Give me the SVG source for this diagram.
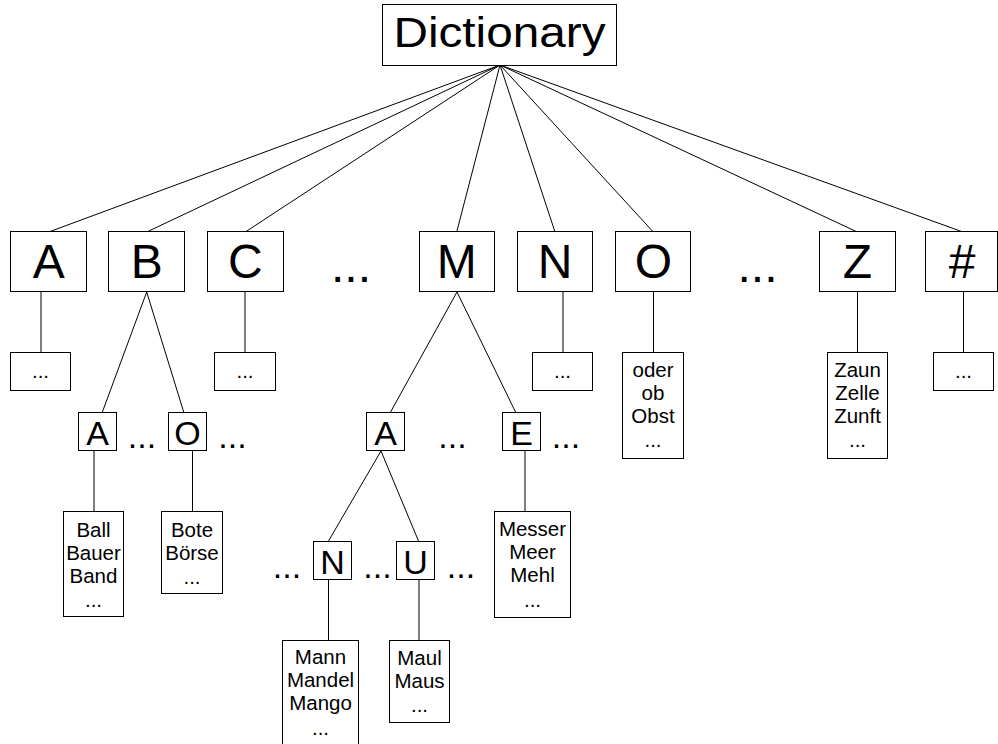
<svg xmlns="http://www.w3.org/2000/svg" width="998" height="744" viewBox="0 0 998 744">
  <style>
    .box { fill: #fff; stroke: #000; stroke-width: 1; }
    .edge { stroke: #000; stroke-width: 1; fill: none; }
    text { font-family: "Liberation Sans", Arial, sans-serif; fill: #000; text-anchor: middle; }
    .root { font-size: 42px; }
    .big { font-size: 48px; }
    .mid { font-size: 34px; }
    .small { font-size: 20.5px; }
  </style>
  <rect width="998" height="744" fill="#fff"/>

  <!-- connectors -->
  <g id="connectors" class="edge">
    <line x1="500" y1="65" x2="48.7" y2="232"/>
    <line x1="500" y1="65" x2="146.7" y2="232"/>
    <line x1="500" y1="65" x2="245.3" y2="232"/>
    <line x1="500" y1="65" x2="456.7" y2="232"/>
    <line x1="500" y1="65" x2="555" y2="232"/>
    <line x1="500" y1="65" x2="653.3" y2="232"/>
    <line x1="500" y1="65" x2="857.3" y2="232"/>
    <line x1="500" y1="65" x2="963" y2="232"/>
    <!-- letter to leaf -->
    <line x1="41" y1="292" x2="41" y2="352"/>
    <line x1="245" y1="292" x2="245" y2="352"/>
    <line x1="563" y1="292" x2="563" y2="352"/>
    <line x1="653.5" y1="292" x2="653.5" y2="352"/>
    <line x1="857.5" y1="292" x2="857.5" y2="352"/>
    <line x1="963.5" y1="292" x2="963.5" y2="352"/>
    <!-- B subtree -->
    <line x1="146.7" y1="292" x2="102" y2="413"/>
    <line x1="146.7" y1="292" x2="184" y2="413"/>
    <line x1="94" y1="451" x2="94" y2="512"/>
    <line x1="192.5" y1="451" x2="192.5" y2="512"/>
    <!-- M subtree -->
    <line x1="457" y1="292" x2="390" y2="413"/>
    <line x1="457" y1="292" x2="516" y2="413"/>
    <line x1="525" y1="451" x2="525" y2="512"/>
    <line x1="381" y1="451" x2="328.5" y2="541"/>
    <line x1="381" y1="451" x2="418.5" y2="541"/>
    <line x1="328.5" y1="579" x2="328.5" y2="640"/>
    <line x1="419" y1="579" x2="419" y2="640"/>
  </g>

  <!-- root -->
  <g id="dictionary">
    <rect class="box" x="382.5" y="4.5" width="234" height="61"/>
    <text class="root" x="499.5" y="47" textLength="212" lengthAdjust="spacingAndGlyphs">Dictionary</text>
  </g>

  <!-- first-letter row -->
  <g id="letter-A"><rect class="box" x="10.5" y="231.5" width="76" height="60"/><text class="big" x="48.7" y="278">A</text></g>
  <g id="letter-B"><rect class="box" x="108.5" y="231.5" width="76" height="60"/><text class="big" x="146.7" y="278">B</text></g>
  <g id="letter-C"><rect class="box" x="207.5" y="231.5" width="76" height="60"/><text class="big" x="245.3" y="278">C</text></g>
  <g id="gap-CM"><text class="big" x="351" y="282">...</text></g>
  <g id="letter-M"><rect class="box" x="419.5" y="231.5" width="75" height="60"/><text class="big" x="456.7" y="278">M</text></g>
  <g id="letter-N"><rect class="box" x="517.5" y="231.5" width="75" height="60"/><text class="big" x="555" y="278">N</text></g>
  <g id="letter-O"><rect class="box" x="615.5" y="231.5" width="75" height="60"/><text class="big" x="653.3" y="278">O</text></g>
  <g id="gap-OZ"><text class="big" x="757.5" y="282">...</text></g>
  <g id="letter-Z"><rect class="box" x="819.5" y="231.5" width="76" height="60"/><text class="big" x="857.3" y="278">Z</text></g>
  <g id="letter-hash"><rect class="box" x="925.5" y="231.5" width="72" height="60"/><text class="big" x="962" y="278">#</text></g>

  <!-- leaves of the first row -->
  <g id="leaf-A"><rect class="box" x="10.5" y="352.5" width="60" height="38"/><text class="small" x="40.5" y="378">...</text></g>
  <g id="leaf-C"><rect class="box" x="214.5" y="352.5" width="61" height="38"/><text class="small" x="245" y="378">...</text></g>
  <g id="leaf-N"><rect class="box" x="532.5" y="352.5" width="60" height="38"/><text class="small" x="562.5" y="378">...</text></g>
  <g id="leaf-O">
    <rect class="box" x="622.5" y="352.5" width="61" height="106"/>
    <text class="small" x="653" y="377">oder</text>
    <text class="small" x="653" y="400">ob</text>
    <text class="small" x="653" y="423">Obst</text>
    <text class="small" x="653" y="447">...</text>
  </g>
  <g id="leaf-Z">
    <rect class="box" x="827.5" y="352.5" width="60" height="106"/>
    <text class="small" x="857.5" y="377">Zaun</text>
    <text class="small" x="857.5" y="400">Zelle</text>
    <text class="small" x="857.5" y="423">Zunft</text>
    <text class="small" x="857.5" y="447">...</text>
  </g>
  <g id="leaf-hash"><rect class="box" x="933.5" y="352.5" width="60" height="38"/><text class="small" x="963.5" y="378">...</text></g>

  <!-- B subtree -->
  <g id="B-A"><rect class="box" x="78.5" y="412.5" width="38" height="38"/><text class="mid" x="97.5" y="445">A</text></g>
  <g id="gap-B1"><text class="mid" x="142" y="448">...</text></g>
  <g id="B-O"><rect class="box" x="168.5" y="412.5" width="38" height="38"/><text class="mid" x="187.5" y="445">O</text></g>
  <g id="gap-B2"><text class="mid" x="232.5" y="448">...</text></g>
  <g id="leaf-BA">
    <rect class="box" x="63.5" y="511.5" width="60" height="105"/>
    <text class="small" x="93.5" y="537">Ball</text>
    <text class="small" x="93.5" y="560">Bauer</text>
    <text class="small" x="93.5" y="583">Band</text>
    <text class="small" x="93.5" y="607">...</text>
  </g>
  <g id="leaf-BO">
    <rect class="box" x="161.5" y="511.5" width="61" height="82"/>
    <text class="small" x="192" y="537">Bote</text>
    <text class="small" x="192" y="560">Börse</text>
    <text class="small" x="192" y="584">...</text>
  </g>

  <!-- M subtree -->
  <g id="M-A"><rect class="box" x="366.5" y="412.5" width="38" height="38"/><text class="mid" x="385.5" y="445">A</text></g>
  <g id="gap-M1"><text class="mid" x="452.5" y="448">...</text></g>
  <g id="M-E"><rect class="box" x="502.5" y="412.5" width="38" height="38"/><text class="mid" x="521.5" y="445">E</text></g>
  <g id="gap-M2"><text class="mid" x="566" y="448">...</text></g>
  <g id="leaf-ME">
    <rect class="box" x="494.5" y="511.5" width="76" height="106"/>
    <text class="small" x="532.5" y="536">Messer</text>
    <text class="small" x="532.5" y="559">Meer</text>
    <text class="small" x="532.5" y="582">Mehl</text>
    <text class="small" x="532.5" y="607">...</text>
  </g>

  <!-- MA subtree -->
  <g id="gap-MA0"><text class="mid" x="287" y="578">...</text></g>
  <g id="MA-N"><rect class="box" x="313.5" y="541.5" width="38" height="38"/><text class="mid" x="332.5" y="574">N</text></g>
  <g id="gap-MA1"><text class="mid" x="377.5" y="578">...</text></g>
  <g id="MA-U"><rect class="box" x="396.5" y="541.5" width="38" height="38"/><text class="mid" x="415.5" y="574">U</text></g>
  <g id="gap-MA2"><text class="mid" x="461" y="578">...</text></g>
  <g id="leaf-MAN">
    <rect class="box" x="282.5" y="640.5" width="76" height="110"/>
    <text class="small" x="320.5" y="664">Mann</text>
    <text class="small" x="320.5" y="687">Mandel</text>
    <text class="small" x="320.5" y="710">Mango</text>
    <text class="small" x="320.5" y="735">...</text>
  </g>
  <g id="leaf-MAU">
    <rect class="box" x="389.5" y="640.5" width="60" height="82"/>
    <text class="small" x="419.5" y="665">Maul</text>
    <text class="small" x="419.5" y="688">Maus</text>
    <text class="small" x="419.5" y="712">...</text>
  </g>
</svg>
